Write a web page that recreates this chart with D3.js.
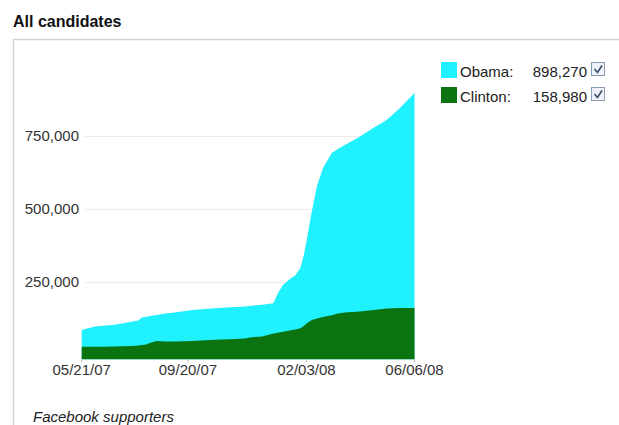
<!DOCTYPE html>
<html>
<head>
<meta charset="utf-8">
<script src="https://cdn.jsdelivr.net/npm/d3@7"></script>
<style>
  html, body { margin: 0; padding: 0; background: #fff; }
  svg { display: block; font-family: Arial, "Liberation Sans", sans-serif; }
</style>
</head>
<body>
<svg id="chart" width="619" height="425"></svg>
<script>
// Facebook supporters per candidate, sampled over time
const dates = [
  "05/21/07","06/05/07","06/17/07","06/26/07","07/06/07","07/17/07","07/25/07","07/29/07",
  "08/03/07","08/07/07","08/15/07","08/25/07","09/05/07","09/25/07","10/10/07","10/21/07",
  "11/07/07","11/24/07","12/02/07","12/14/07","12/27/07","01/01/08","01/07/08","01/15/08",
  "01/21/08","01/27/08","01/31/08","02/03/08","02/09/08","02/15/08","02/22/08","03/03/08",
  "03/10/08","03/18/08","04/04/08","04/20/08","05/05/08","05/20/08","06/06/08"
];
const obama = [
  83500, 95500, 99000, 100700, 105800, 112000, 116100, 126500,
  128200, 131600, 135000, 140200, 143600, 152200, 155700, 158100,
  161500, 164300, 167000, 170100, 175300, 208900, 238100, 258800,
  270800, 296600, 341200, 387600, 489000, 578300, 640200, 691700,
  705500, 719200, 747700, 778700, 805100, 845300, 898270
];
const clinton = [
  26100, 26100, 26100, 26800, 27500, 28500, 30200, 32000,
  33700, 38800, 45700, 44000, 44000, 45700, 48100, 50200,
  51900, 54300, 58400, 61200, 71500, 74200, 77700, 81800,
  85200, 89300, 97300, 105800, 117900, 123000, 128200, 134000,
  140200, 143600, 147100, 152200, 157400, 159100, 158980
];
const seriesNames = ["Obama", "Clinton"];
const seriesColors = ["#1ff1fe", "#0b7411"];
const yTicks = [250000, 500000, 750000];
const xTickLabels = ["05/21/07", "09/20/07", "02/03/08", "06/06/08"];
const title = "All candidates";
const footnote = "Facebook supporters";

const parse = d3.timeParse("%m/%d/%y");
const fmt = d3.format(",");
const svg = d3.select("#chart");

// frame around the chart body
svg.append("path")
  .attr("d", "M13.5,425 V39.5 H619")
  .attr("fill", "none")
  .attr("stroke", "#d4d4d4")
  .attr("stroke-width", 1.5);

svg.append("text")
  .attr("x", 13).attr("y", 27)
  .attr("font-size", 16).attr("font-weight", "bold")
  .attr("fill", "#111")
  .text(title);

const x = d3.scaleTime()
  .domain([parse(xTickLabels[0]), parse(xTickLabels[xTickLabels.length - 1])])
  .range([81.7, 414.5]);
const y = d3.scaleLinear()
  .domain([0, 1000000])
  .range([354.3, 63.3]);
const plotBottom = y(0) + 5;

// gridlines + value labels
const grid = svg.append("g");
grid.selectAll("line").data(yTicks).join("line")
  .attr("x1", 85).attr("x2", 415)
  .attr("y1", d => Math.round(y(d)) + 0.5).attr("y2", d => Math.round(y(d)) + 0.5)
  .attr("stroke", "#ececec").attr("stroke-width", 1);
grid.selectAll("text").data(yTicks).join("text")
  .attr("x", 79).attr("y", d => y(d))
  .attr("dy", "0.35em")
  .attr("text-anchor", "end")
  .attr("font-size", 15).attr("fill", "#333")
  .text(d => fmt(d));

// stacked-over areas, both filled from the plot floor
const rows = dates.map((d, i) => ({ date: parse(d), values: [obama[i], clinton[i]] }));
seriesNames.forEach((name, k) => {
  const area = d3.area()
    .x(d => x(d.date))
    .y0(plotBottom)
    .y1(d => y(d.values[k]));
  svg.append("path")
    .datum(rows)
    .attr("d", area)
    .attr("fill", seriesColors[k]);
});

// date axis
const xAxis = svg.append("g");
xAxis.selectAll("line").data(xTickLabels).join("line")
  .attr("x1", d => x(parse(d))).attr("x2", d => x(parse(d)))
  .attr("y1", plotBottom).attr("y2", plotBottom + 3)
  .attr("stroke", "#bbb");
xAxis.selectAll("text").data(xTickLabels).join("text")
  .attr("x", d => x(parse(d)))
  .attr("y", 375)
  .attr("text-anchor", "middle")
  .attr("font-size", 15).attr("fill", "#333")
  .text(d => d);

// legend with latest values and check boxes
const latest = [obama[obama.length - 1], clinton[clinton.length - 1]];
const legend = svg.append("g");
seriesNames.forEach((name, k) => {
  const row = legend.append("g").attr("transform", `translate(0,${k * 25})`);
  row.append("rect")
    .attr("x", 441).attr("y", 62).attr("width", 16).attr("height", 16)
    .attr("fill", seriesColors[k]);
  row.append("text")
    .attr("x", 460).attr("y", 77)
    .attr("font-size", 15).attr("fill", "#222")
    .text(name + ":");
  row.append("text")
    .attr("x", 587).attr("y", 77)
    .attr("text-anchor", "end")
    .attr("font-size", 15).attr("fill", "#222")
    .text(fmt(latest[k]));
  row.append("rect")
    .attr("x", 591.5).attr("y", 62.5).attr("width", 13).attr("height", 13)
    .attr("fill", "#eef2f8").attr("stroke", "#8a9bb5");
  row.append("path")
    .attr("d", "M594.5,69 L597.5,72.5 L602,65.5")
    .attr("fill", "none").attr("stroke", "#3a4a6a").attr("stroke-width", 1.6);
});

svg.append("text")
  .attr("x", 33).attr("y", 422)
  .attr("font-size", 15).attr("font-style", "italic").attr("fill", "#222")
  .text(footnote);
</script>
</body>
</html>
